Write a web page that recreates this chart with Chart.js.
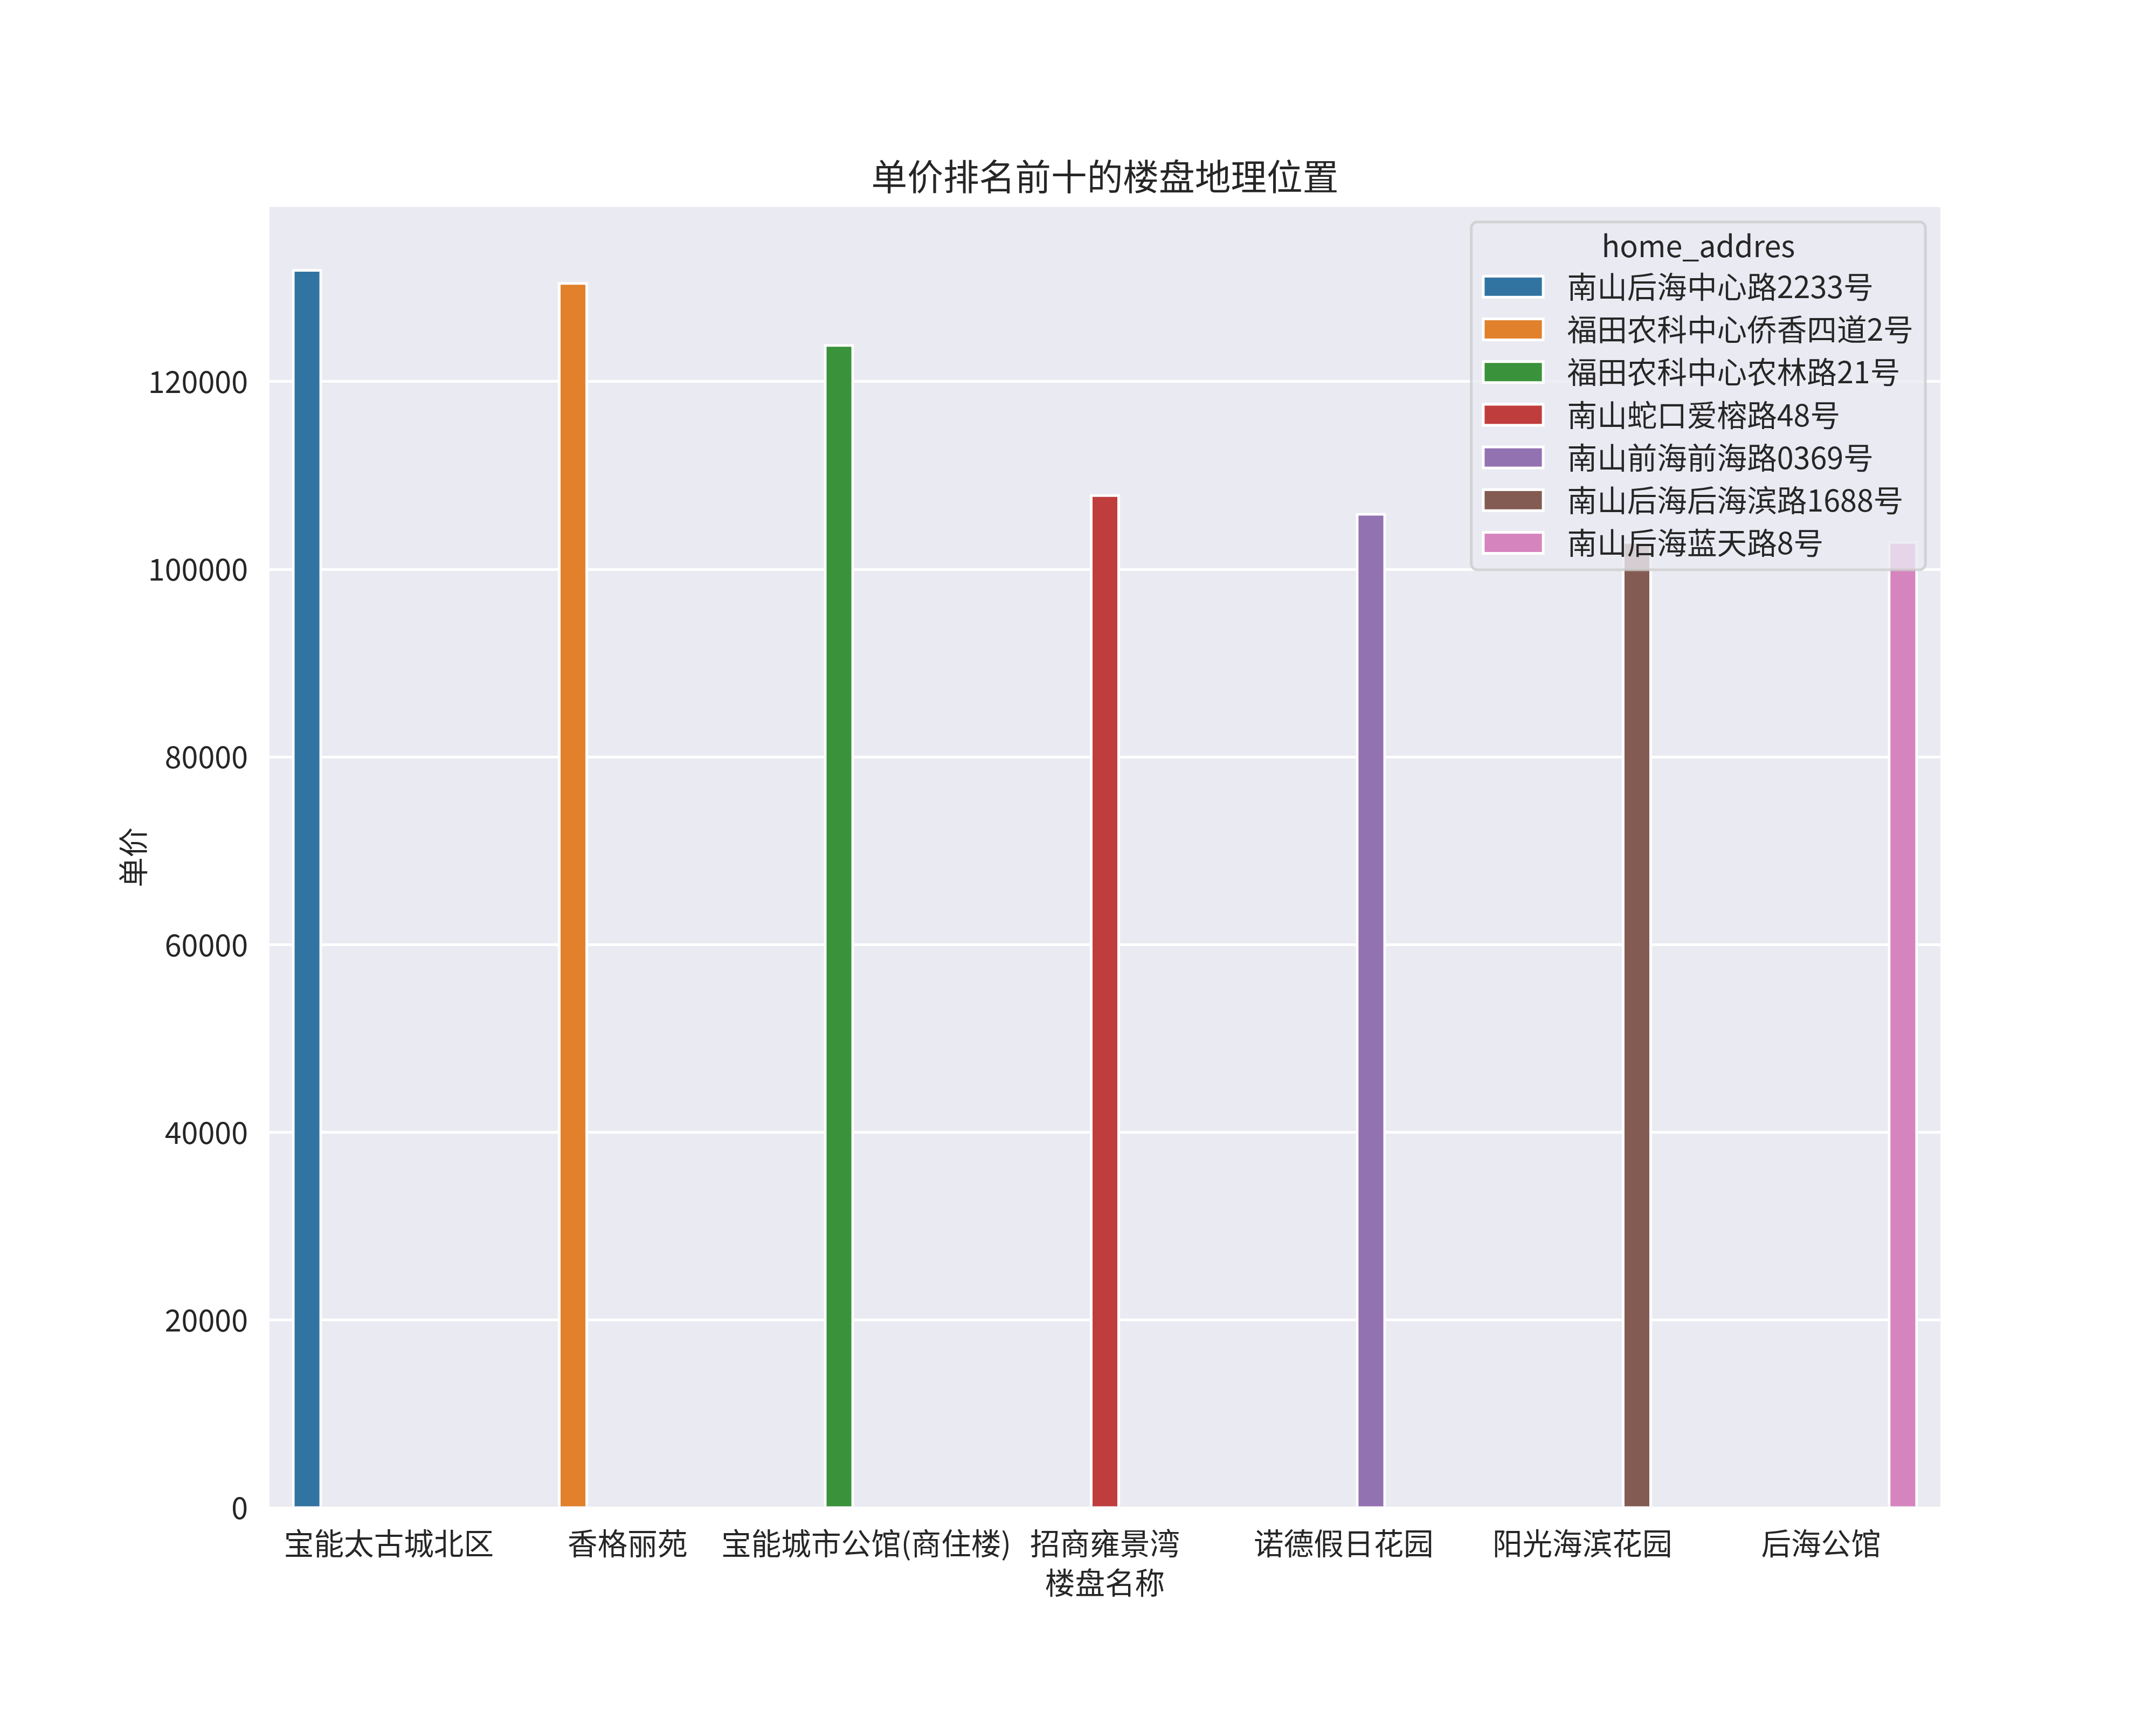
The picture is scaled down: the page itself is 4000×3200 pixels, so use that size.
<!DOCTYPE html>
<html>
<head>
<meta charset="utf-8">
<script src="https://cdn.jsdelivr.net/npm/chart.js@4/dist/chart.umd.min.js"></script>
<style>
    html, body { margin: 0; padding: 0; background: #ffffff; }
    #wrap { width: 4000px; height: 3200px; position: relative; }
</style>
</head>
<body>
<div id="wrap"><canvas id="plot"></canvas></div>
<script>
// 楼盘名称 (x categories)
const buildings = ['宝能太古城北区', '香格丽苑', '宝能城市公馆(商住楼)', '招商雍景湾', '诺德假日花园', '阳光海滨花园', '后海公馆'];
// hue: home_addres, one per building
const addresses = ['南山后海中心路2233号', '福田农科中心侨香四道2号', '福田农科中心农林路21号', '南山蛇口爱榕路48号', '南山前海前海路0369号', '南山后海后海滨路1688号', '南山后海蓝天路8号'];
// 单价
const prices = [132000, 130600, 124000, 108000, 106000, 103000, 103000];
const yTicks = [0, 20000, 40000, 60000, 80000, 100000, 120000];
const palette = ['#3274a1', '#e1812c', '#3a923a', '#c03d3e', '#9372b2', '#845b53', '#d684bd'];

const FONT = '"Noto Sans CJK SC", "Noto Sans", sans-serif';
const FS = 55.6;      // 10pt at 400 dpi
const TEXT = '#262626';

document.addEventListener('DOMContentLoaded', () => {
    Chart.defaults.font.family = FONT;
    Chart.defaults.color = TEXT;

    // each hue gets its own dodge slot, value only at its own category
    const datasets = addresses.map((addr, j) => ({
        label: addr,
        data: buildings.map((b, i) => (i === j ? prices[j] : null)),
        backgroundColor: palette[j],
        borderColor: '#ffffff',
        borderWidth: 5,
        categoryPercentage: 0.8,
        barPercentage: 1.107
    }));

    const plotBg = {
        id: 'plotBg',
        afterLayout(chart) {
            // center the title over the axes, like matplotlib does
            if (chart.titleBlock) {
                chart.titleBlock.left = chart.chartArea.left;
                chart.titleBlock.right = chart.chartArea.right;
            }
        },
        beforeDraw(chart) {
            const { ctx, chartArea: a } = chart;
            ctx.save();
            ctx.fillStyle = '#eaeaf2';
            ctx.fillRect(a.left, a.top, a.right - a.left, a.bottom - a.top);
            ctx.restore();
        }
    };

    const roundedRect = (ctx, x, y, w, h, r) => {
        ctx.beginPath();
        ctx.moveTo(x + r, y);
        ctx.lineTo(x + w - r, y);
        ctx.arcTo(x + w, y, x + w, y + r, r);
        ctx.lineTo(x + w, y + h - r);
        ctx.arcTo(x + w, y + h, x + w - r, y + h, r);
        ctx.lineTo(x + r, y + h);
        ctx.arcTo(x, y + h, x, y + h - r, r);
        ctx.lineTo(x, y + r);
        ctx.arcTo(x, y, x + r, y, r);
        ctx.closePath();
    };

    // seaborn style legend box inside the axes, upper right
    const legendBox = {
        id: 'legendBox',
        afterDatasetsDraw(chart) {
            const { ctx, chartArea: a } = chart;
            const sets = chart.data.datasets;
            ctx.save();
            ctx.font = `${FS}px ${FONT}`;
            const textW = Math.max(...sets.map(d => ctx.measureText(d.label).width));
            const pad = 0.4 * FS, handleLen = 2 * FS, handlePad = 0.8 * FS, rowH = 79.2;
            const w = pad + handleLen + handlePad + textW + pad;
            const right = a.right - 0.5 * FS;
            const left = right - w;
            const top = a.top + 0.5 * FS;
            const h = 120 + (sets.length - 1) * rowH + 50;

            roundedRect(ctx, left, top, w, h, 11);
            ctx.fillStyle = 'rgba(234,234,242,0.8)';
            ctx.fill();
            ctx.lineWidth = 5;
            ctx.strokeStyle = 'rgba(204,204,204,0.8)';
            ctx.stroke();

            ctx.fillStyle = TEXT;
            ctx.textBaseline = 'middle';
            ctx.textAlign = 'center';
            ctx.fillText('home_addres', left + w / 2, top + 44);

            ctx.textAlign = 'left';
            sets.forEach((d, j) => {
                const cy = top + 120 + j * rowH;
                const px = left + pad;
                const ph = 0.7 * FS;
                ctx.fillStyle = d.backgroundColor;
                ctx.fillRect(px, cy - ph / 2, handleLen, ph);
                ctx.lineWidth = 5;
                ctx.strokeStyle = '#ffffff';
                ctx.strokeRect(px, cy - ph / 2, handleLen, ph);
                ctx.fillStyle = TEXT;
                ctx.fillText(d.label, px + handleLen + handlePad, cy);
            });
            ctx.restore();
        }
    };

    const ctx = document.getElementById('plot').getContext('2d');
    new Chart(ctx, {
        type: 'bar',
        data: {
            labels: buildings,
            datasets: datasets
        },
        plugins: [plotBg, legendBox],
        options: {
            responsive: true,
            maintainAspectRatio: false,
            devicePixelRatio: 1,
            animation: false,
            layout: { padding: { left: 0, right: 400, top: 0, bottom: 0 } },
            plugins: {
                legend: { display: false },
                tooltip: { enabled: false },
                title: {
                    display: true,
                    text: '单价排名前十的楼盘地理位置',
                    color: TEXT,
                    font: { size: 66.7, weight: 'normal', family: FONT },
                    padding: { top: 288, bottom: 16 }
                }
            },
            scales: {
                x: {
                    grid: { display: false },
                    border: { display: false },
                    ticks: {
                        color: TEXT,
                        font: { size: FS },
                        padding: 25,
                        maxRotation: 0,
                        autoSkip: false
                    },
                    title: {
                        display: true,
                        text: '楼盘名称',
                        color: TEXT,
                        font: { size: FS },
                        padding: { top: 0, bottom: 231 }
                    },
                    afterFit: (scale) => { scale.height = 403; }
                },
                y: {
                    min: 0,
                    max: 138600,
                    grid: { color: '#ffffff', lineWidth: 5, drawTicks: false },
                    border: { display: false },
                    afterBuildTicks: (scale) => {
                        scale.ticks = yTicks.map(v => ({ value: v }));
                    },
                    ticks: {
                        color: TEXT,
                        font: { size: FS },
                        padding: 40,
                        callback: (v) => String(v)
                    },
                    title: {
                        display: true,
                        text: '单价',
                        color: TEXT,
                        font: { size: FS },
                        padding: { top: 214, bottom: 0 }
                    },
                    afterFit: (scale) => { scale.width = 500; }
                }
            }
        }
    });
});
</script>
</body>
</html>
